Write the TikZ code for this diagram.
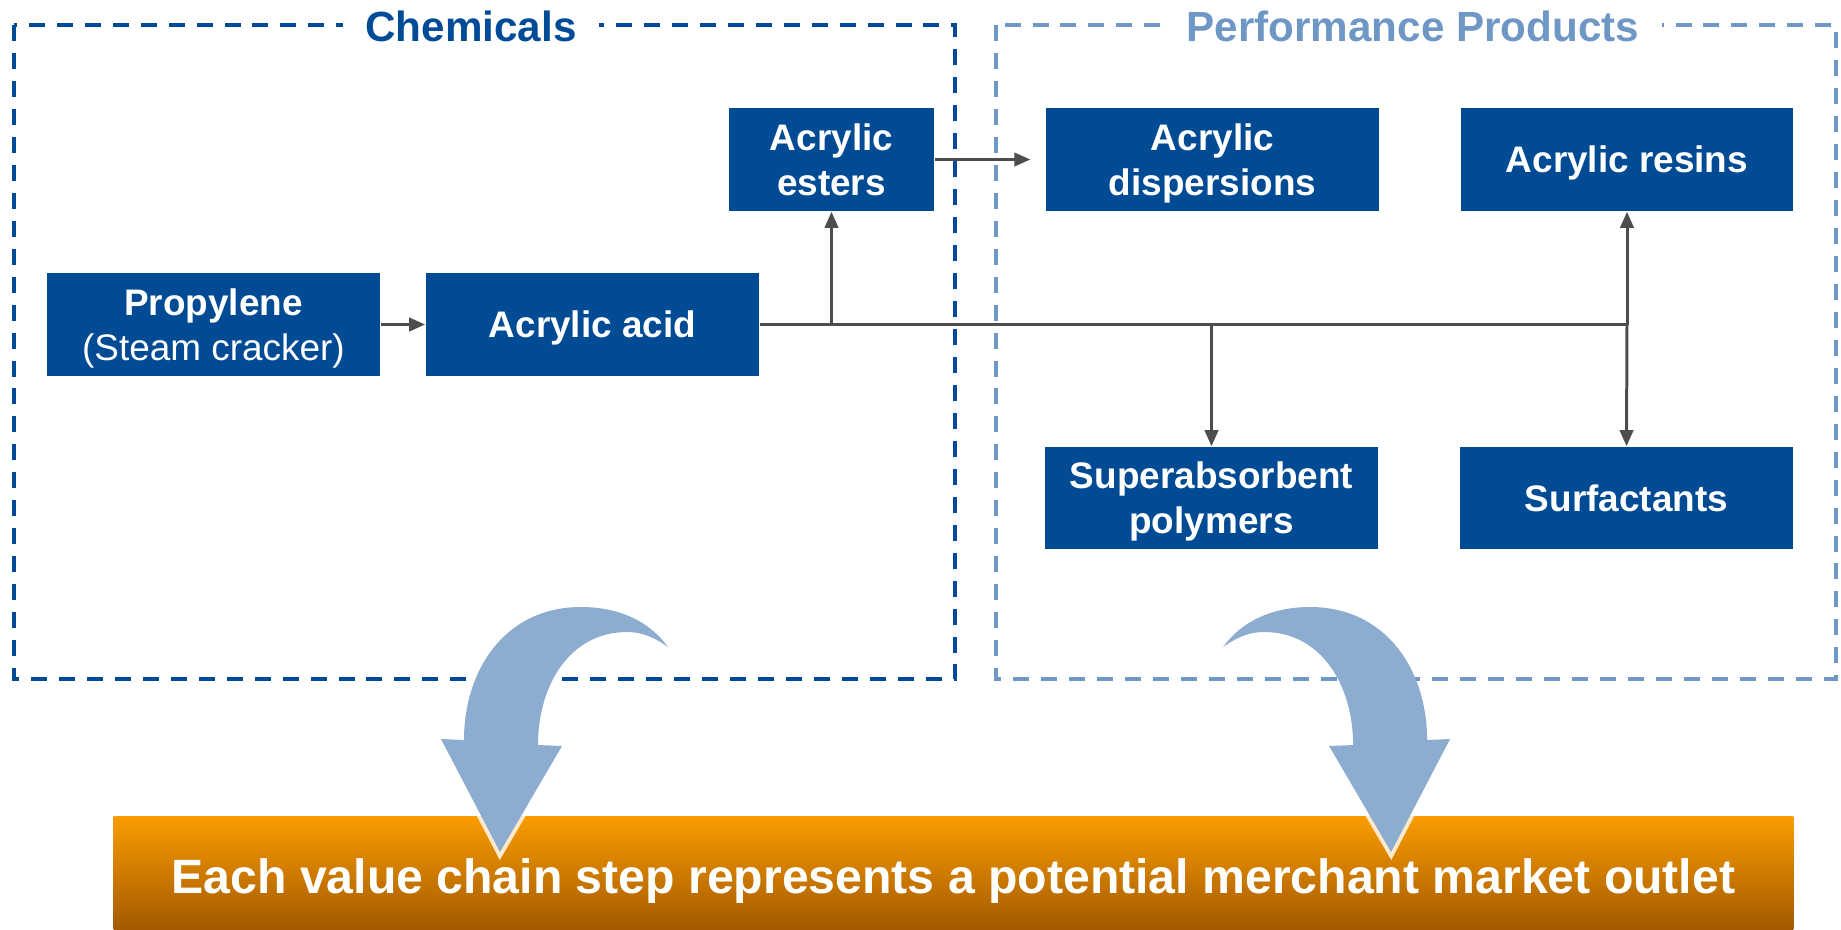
\documentclass[tikz,border=0pt]{standalone}
\usepackage{fontspec}
\setmainfont{Liberation Sans}
\usetikzlibrary{arrows.meta}

\definecolor{boxblue}{HTML}{004B93}
\definecolor{chemblue}{HTML}{004B98}
\definecolor{perfblue}{HTML}{6E97C6}
\definecolor{linegray}{HTML}{4D4D4D}
\definecolor{arrowblue}{HTML}{8DADD0}
\definecolor{glowcream}{HTML}{FFE9CC}
\definecolor{orangetop}{HTML}{F99B00}
\definecolor{orangebot}{HTML}{A35A00}

% outline of the curved "outlet" arrow (left-hand version)
\newcommand\outletarrowpath{%
  (668,-647) .. controls (650,-622) and (620,-607) .. (581,-607)
  .. controls (505,-607) and (464,-670) .. (464,-740)
  -- (441,-739) -- (500,-852) -- (562,-746) -- (538,-745)
  .. controls (538,-685) and (570,-632) .. (627,-632)
  .. controls (645,-632) and (658,-640) .. (668,-647) -- cycle}

\begin{document}
\begin{tikzpicture}[x=0.01cm,y=0.01cm,
  stepbox/.style={fill=boxblue,text=white,inner sep=0pt,minimum height=1.03cm,
    align=center,text depth=0pt,font=\bfseries\fontsize{10.5}{12.8}\selectfont},
  frame/.style={line width=1.15pt,dash pattern=on 4.55pt off 3.4pt},
  grouptitle/.style={fill=white,inner xsep=6.5pt,inner ysep=2pt,anchor=base,
    font=\bfseries\fontsize{12}{14}\selectfont},
  conn/.style={draw=linegray,line width=0.85pt},
  flow/.style={conn,-{Triangle[length=4.6pt,width=3.8pt]}},
  outlet/.style={fill=arrowblue},
]
\useasboundingbox (0,0) rectangle (1841,-929);

% group frames
\draw[frame,chemblue] (14,-25) rectangle (955,-679);
\draw[frame,perfblue] (996,-25) rectangle (1836,-679);
\node[grouptitle,text=chemblue] (chemt) at (471,-41) {Chemicals};
\node[grouptitle,text=perfblue] (perft) at (1413,-41) {Performance Products};

% value chain steps
\node[stepbox,minimum width=3.33cm] (prop) at (213.5,-324.5)
  {Propylene\\\mdseries(Steam cracker)};
\node[stepbox,minimum width=3.33cm] (acid) at (592.5,-324.5) {Acrylic acid};
\node[stepbox,minimum width=2.05cm] (esters) at (831.5,-159.5) {Acrylic\\esters};
\node[stepbox,minimum width=3.33cm] (disp) at (1212.5,-159.5) {Acrylic\\dispersions};
\node[stepbox,minimum width=3.32cm] (resins) at (1627,-159.5) {Acrylic resins};
\node[stepbox,minimum width=3.33cm,minimum height=1.02cm] (sap) at (1211.5,-498)
  {Superabsorbent\\polymers};
\node[stepbox,minimum width=3.33cm,minimum height=1.02cm] (surf) at (1626.5,-498)
  {Surfactants};

% connectors
\draw[flow] (prop) -- (acid);
\draw[conn] (acid.east) -- (resins.south |- acid.east);
\draw[flow] (esters.south |- acid.east) -- (esters.south);
\draw[flow] (sap.north |- acid.east) -- (sap.north);
\draw[flow] (resins.south |- acid.east) -- (resins.south);
\draw[flow] (resins.south |- acid.east) -- (surf.north);
\draw[flow,shorten >=4.2pt] (esters.east) -- (disp.west);

% message bar
\node[minimum width=16.79cm,minimum height=1.12cm,inner sep=0pt,
  text height=0.4cm,text depth=0pt,
  top color=orangetop,bottom color=orangebot,text=white,
  font=\bfseries\fontsize{13.7}{16}\selectfont] (bar) at (953.5,-873)
  {Each value chain step represents a potential merchant market outlet};

% curved arrows, with a light halo where they reach the bar
\begin{scope}
  \clip (bar.north west) rectangle (bar.south east);
  \draw[glowcream,line width=2.2pt,line join=miter] \outletarrowpath;
  \begin{scope}[xshift=18.9cm,xscale=-1]
    \draw[glowcream,line width=2.2pt,line join=miter] \outletarrowpath;
  \end{scope}
\end{scope}
\fill[outlet] \outletarrowpath;
\begin{scope}[xshift=18.9cm,xscale=-1]
  \fill[outlet] \outletarrowpath;
\end{scope}
\end{tikzpicture}
\end{document}
